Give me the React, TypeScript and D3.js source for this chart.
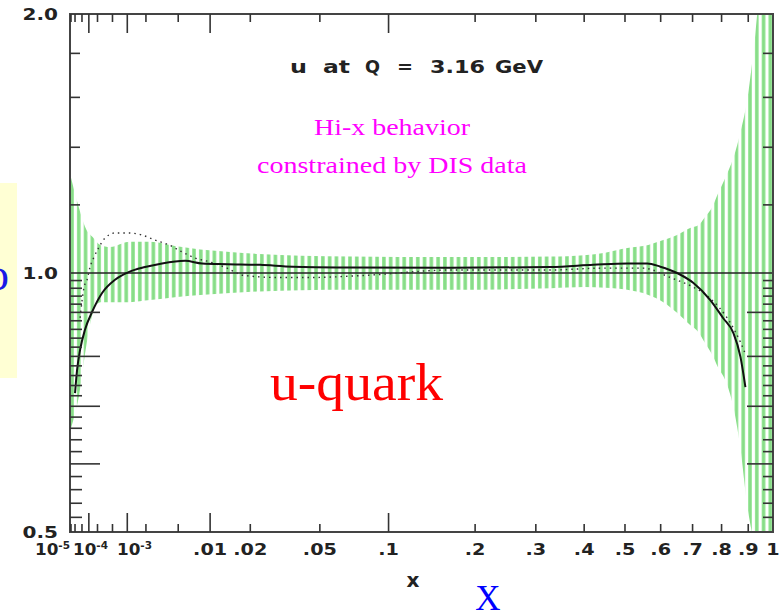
import React, { useEffect, useRef } from "react";
import * as d3 from "d3";

// hatched error band: x and upper / lower edge of the ratio
const bandX = [1e-5, 3.5e-5, 7.7e-5, 1.43e-4, 2.4e-4, 4.4e-4, 1.1e-3, 2.3e-3, 4.6e-3, 8.2e-3, 0.0144, 0.023, 0.04, 0.07, 0.11, 0.17, 0.24, 0.33, 0.4, 0.45, 0.506, 0.564, 0.608, 0.65, 0.692, 0.719, 0.742, 0.767, 0.788, 0.813, 0.843, 0.869, 0.896, 0.92, 0.948, 1.0];
const bandHi = [1.29, 1.19, 1.125, 1.1, 1.078, 1.072, 1.087, 1.087, 1.075, 1.065, 1.058, 1.052, 1.047, 1.045, 1.044, 1.044, 1.044, 1.045, 1.049, 1.056, 1.069, 1.078, 1.092, 1.107, 1.128, 1.136, 1.162, 1.193, 1.239, 1.289, 1.36, 1.454, 1.589, 1.8, 2.1, 2.1];
const bandLo = [0.66, 0.72, 0.82, 0.9, 0.925, 0.925, 0.925, 0.93, 0.937, 0.943, 0.948, 0.952, 0.955, 0.956, 0.956, 0.956, 0.957, 0.96, 0.963, 0.961, 0.956, 0.943, 0.925, 0.899, 0.87, 0.854, 0.829, 0.803, 0.776, 0.751, 0.699, 0.628, 0.537, 0.49, 0.45, 0.45];

// solid curve
const solidX = [2.0e-5, 2.7e-5, 4.0e-5, 6.9e-5, 1.32e-4, 2.73e-4, 5.7e-4, 1.08e-3, 1.94e-3, 3.27e-3, 5.89e-3, 8.5e-3, 0.0137, 0.0232, 0.0363, 0.0692, 0.1665, 0.328, 0.421, 0.506, 0.561, 0.599, 0.65, 0.702, 0.76, 0.806, 0.843, 0.87, 0.889];
const solidY = [0.725, 0.771, 0.814, 0.859, 0.901, 0.948, 0.982, 1.003, 1.016, 1.026, 1.033, 1.026, 1.024, 1.022, 1.017, 1.015, 1.014, 1.016, 1.022, 1.026, 1.026, 1.017, 1.0, 0.974, 0.93, 0.886, 0.852, 0.799, 0.737];

// dotted curve
const dotX = [4.0e-5, 6.3e-5, 8.5e-5, 1.11e-4, 1.55e-4, 2.23e-4, 3.29e-4, 5.7e-4, 1.08e-3, 1.75e-3, 2.67e-3, 3.96e-3, 5.49e-3, 7.36e-3, 0.01, 0.0137, 0.0179, 0.0295, 0.0447, 0.0819, 0.1665, 0.328, 0.438, 0.55, 0.629, 0.702, 0.736, 0.851, 0.87, 0.889];
const dotY = [0.887, 0.963, 0.982, 1.016, 1.044, 1.072, 1.098, 1.113, 1.113, 1.107, 1.092, 1.078, 1.058, 1.041, 1.03, 1.013, 0.994, 0.988, 0.988, 0.994, 1.008, 1.008, 1.013, 1.013, 0.988, 0.963, 0.948, 0.854, 0.831, 0.805];

// x axis ticks and labels
const xLongTicks = [1e-4, 1e-3, 0.01, 0.1];
const xShortTicks = [1e-5, 2e-5, 5e-5, 2e-4, 5e-4, 2e-3, 5e-3, 0.02, 0.05, 0.2, 0.3, 0.4, 0.5, 0.6, 0.7, 0.8, 0.9];
const xLabelValues = [0.01, 0.02, 0.05, 0.1, 0.2, 0.3, 0.4, 0.5, 0.6, 0.7, 0.8, 0.9, 1];
const xLabels = [".01", ".02", ".05", ".1", ".2", ".3", ".4", ".5", ".6", ".7", ".8", ".9", "1"];
const xExpValues = [1e-5, 1e-4, 1e-3];
const xExpLabels = ["-5", "-4", "-3"];

// y axis ticks and labels
const yMajorTicks = [0.6, 0.7, 0.8, 0.9];
const yMinorTicks = [0.52, 0.54, 0.56, 0.58, 0.62, 0.64, 0.66, 0.68, 0.72, 0.74, 0.76, 0.78, 0.82, 0.84, 0.86, 0.88, 0.92, 0.94, 0.96, 0.98];
const yUpperTicks = [1.2, 1.4, 1.6, 1.8];
const yLabelValues = [0.5, 1.0, 2.0];
const yLabels = ["0.5", "1.0", "2.0"];

// title, word by word
const titleWords = ["u", "at", "Q", "=", "3.16", "GeV"];

export default function App() {
	const svgRef = useRef(null);

	useEffect(() => {
		const W = 783;
		const H = 615;
		const plot = { left: 70, right: 773, top: 14, bottom: 532 };
		const ink = "#222";
		const labelFont = "DejaVu Sans";

		const svg = d3.select(svgRef.current).attr("width", W).attr("height", H);

		// x is on a cube-root scale, y is logarithmic
		const x = d3.scalePow().exponent(1 / 3).domain([1e-5, 1]).range([71, 773]);
		const y = d3.scaleLog().domain([0.5, 2]).range([plot.bottom, plot.top]);

		// left slide decoration (yellow box partly off screen)
		svg.append("rect")
			.attr("x", 0)
			.attr("y", 183)
			.attr("width", 17)
			.attr("height", 195)
			.attr("fill", "#ffffd4");
		svg.append("text")
			.attr("x", 9)
			.attr("y", 290)
			.attr("text-anchor", "end")
			.attr("font-family", "Liberation Serif")
			.attr("font-size", 46)
			.attr("fill", "#1a1ae6")
			.text("o");

		const defs = svg.append("defs");
		defs.append("clipPath")
			.attr("id", "plot-clip")
			.append("rect")
			.attr("x", plot.left)
			.attr("y", plot.top)
			.attr("width", plot.right - plot.left)
			.attr("height", plot.bottom - plot.top);

		// vertical hatching for the error band
		const step = 6.78;
		const pat = defs.append("pattern")
			.attr("id", "hatch")
			.attr("patternUnits", "userSpaceOnUse")
			.attr("x", 72 - 1.9)
			.attr("y", 0)
			.attr("width", step)
			.attr("height", H);
		pat.append("rect").attr("x", 0).attr("y", 0).attr("width", 3.8).attr("height", H).attr("fill", "#96e696");
		pat.append("rect").attr("x", 1.5).attr("y", 0).attr("width", 0.9).attr("height", H).attr("fill", "#62c062").attr("opacity", 0.6);

		const g = svg.append("g").attr("clip-path", "url(#plot-clip)");

		const band = bandX.map((v, i) => ({ x: v, hi: bandHi[i], lo: bandLo[i] }));
		const area = d3.area()
			.x((d) => x(d.x))
			.y0((d) => y(d.lo))
			.y1((d) => y(d.hi))
			.curve(d3.curveMonotoneX);
		g.append("path").datum(band).attr("d", area).attr("fill", "url(#hatch)");

		// reference line at 1
		g.append("line")
			.attr("x1", plot.left)
			.attr("x2", plot.right)
			.attr("y1", y(1))
			.attr("y2", y(1))
			.attr("stroke", ink)
			.attr("stroke-width", 1.6);

		const line = d3.line()
			.x((d) => x(d[0]))
			.y((d) => y(d[1]))
			.curve(d3.curveMonotoneX);

		g.append("path")
			.datum(dotX.map((v, i) => [v, dotY[i]]))
			.attr("d", line)
			.attr("fill", "none")
			.attr("stroke", "#333")
			.attr("stroke-width", 1.4)
			.attr("stroke-dasharray", "1.5,4");

		g.append("path")
			.datum(solidX.map((v, i) => [v, solidY[i]]))
			.attr("d", line)
			.attr("fill", "none")
			.attr("stroke", "#111")
			.attr("stroke-width", 2);

		// frame
		svg.append("rect")
			.attr("x", plot.left)
			.attr("y", plot.top)
			.attr("width", plot.right - plot.left)
			.attr("height", plot.bottom - plot.top)
			.attr("fill", "none")
			.attr("stroke", "#444")
			.attr("stroke-width", 2);

		const ticks = svg.append("g").attr("stroke", "#333").attr("stroke-width", 1.6);

		// x ticks, bottom and top
		const xTick = (vals, len) => {
			vals.forEach((v) => {
				ticks.append("line").attr("x1", x(v)).attr("x2", x(v)).attr("y1", plot.bottom).attr("y2", plot.bottom - len);
				ticks.append("line").attr("x1", x(v)).attr("x2", x(v)).attr("y1", plot.top).attr("y2", plot.top + len);
			});
		};
		xTick(xLongTicks, 19);
		xTick(xShortTicks, 8);

		// y ticks, left and right
		const yTick = (vals, lenL, lenR) => {
			vals.forEach((v) => {
				ticks.append("line").attr("x1", plot.left).attr("x2", plot.left + lenL).attr("y1", y(v)).attr("y2", y(v));
				ticks.append("line").attr("x1", plot.right).attr("x2", plot.right - lenR).attr("y1", y(v)).attr("y2", y(v));
			});
		};
		yTick(yMajorTicks, 30, 26);
		yTick(yMinorTicks, 12, 10);
		yTick(yUpperTicks, 10, 10);

		// the plot's lettering is horizontally wide, so labels are stretched
		const wideText = (px, py, sx, anchor) =>
			svg.append("text")
				.attr("transform", `translate(${px},${py}) scale(${sx},1)`)
				.attr("text-anchor", anchor)
				.attr("font-family", labelFont)
				.attr("font-weight", "bold")
				.attr("font-size", 16)
				.attr("fill", ink);

		yLabelValues.forEach((v, i) => {
			wideText(58, y(v) + 6, 1.25, "end").text(yLabels[i]);
		});

		xLabelValues.forEach((v, i) => {
			wideText(x(v), 555, 1.2, "middle").text(xLabels[i]);
		});

		const expStart = [35, 73, 117];
		xExpValues.forEach((v, i) => {
			const t = wideText(expStart[i], 555, 1.05, "start");
			t.append("tspan").text("10");
			t.append("tspan").attr("dy", -6).attr("font-size", 10).text(xExpLabels[i]);
		});

		// axis title
		svg.append("text")
			.attr("x", 413)
			.attr("y", 587)
			.attr("text-anchor", "middle")
			.attr("font-family", labelFont)
			.attr("font-weight", "bold")
			.attr("font-size", 20)
			.attr("fill", ink)
			.text("x");

		// plot title "u at Q = 3.16 GeV"
		const titleStart = [290, 323, 365, 397, 430, 495];
		const titleWidth = [17, 27, 15, 16, 55, 48];
		titleWords.forEach((w, i) => {
			svg.append("text")
				.attr("x", titleStart[i])
				.attr("y", 73)
				.attr("font-family", labelFont)
				.attr("font-weight", "bold")
				.attr("font-size", 17)
				.attr("textLength", titleWidth[i])
				.attr("lengthAdjust", "spacingAndGlyphs")
				.attr("fill", ink)
				.text(w);
		});

		// slide annotations
		const notes = [
			{ text: "Hi-x behavior", x: 314, y: 135, len: 156 },
			{ text: "constrained by DIS data", x: 257, y: 173, len: 270 },
		];
		notes.forEach((n) => {
			svg.append("text")
				.attr("x", n.x)
				.attr("y", n.y)
				.attr("font-family", "Liberation Serif")
				.attr("font-size", 24)
				.attr("textLength", n.len)
				.attr("lengthAdjust", "spacingAndGlyphs")
				.attr("fill", "#ff00ff")
				.text(n.text);
		});

		svg.append("text")
			.attr("x", 270)
			.attr("y", 400)
			.attr("font-family", "Liberation Serif")
			.attr("font-size", 52)
			.attr("textLength", 173)
			.attr("lengthAdjust", "spacingAndGlyphs")
			.attr("fill", "#ff0000")
			.text("u-quark");

		svg.append("text")
			.attr("x", 488)
			.attr("y", 610)
			.attr("text-anchor", "middle")
			.attr("font-family", "Liberation Serif")
			.attr("font-size", 35)
			.attr("fill", "#0000ff")
			.text("X");

		return () => {
			d3.select(svgRef.current).selectAll("*").remove();
		};
	}, []);

	return (
		<div>
			<svg ref={svgRef} style={{ position: "absolute", left: 0, top: 0, background: "#fff" }}></svg>
		</div>
	);
}
